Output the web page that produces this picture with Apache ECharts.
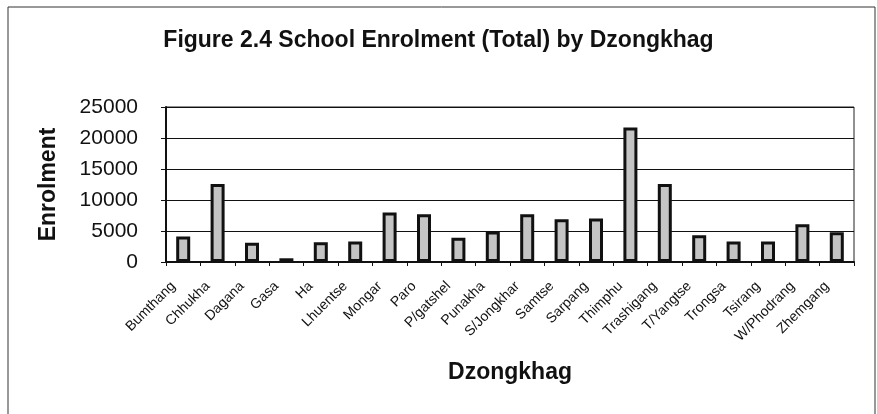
<!DOCTYPE html>
<html>
<head>
<meta charset="utf-8">
<script src="https://cdn.jsdelivr.net/npm/echarts@6/dist/echarts.min.js"></script>
<style>
    html, body { margin: 0; padding: 0; background: #fff; }
    #chart { width: 877px; height: 414px; }
</style>
</head>
<body>
<div id="chart"></div>
<script>
    // Dzongkhag names along the x axis
    var dzongkhags = ['Bumthang', 'Chhukha', 'Dagana', 'Gasa', 'Ha', 'Lhuentse', 'Mongar', 'Paro',
        'P/gatshel', 'Punakha', 'S/Jongkhar', 'Samtse', 'Sarpang', 'Thimphu', 'Trashigang',
        'T/Yangtse', 'Trongsa', 'Tsirang', 'W/Phodrang', 'Zhemgang'];
    // total school enrolment
    var enrolment = [4100, 12600, 3100, 600, 3200, 3300, 8000, 7700,
        3900, 4900, 7700, 6900, 7000, 21700, 12600,
        4300, 3300, 3300, 6100, 4800];
    var yTicks = [0, 5000, 10000, 15000, 20000, 25000];

    var font = 'Arial, "Liberation Sans", sans-serif';

    var option = {
        backgroundColor: '#fff',
        animation: false,
        title: {
            text: 'Figure 2.4 School Enrolment (Total) by Dzongkhag',
            left: 'center',
            top: 24,
            textStyle: {
                color: '#111',
                fontFamily: font,
                fontWeight: 'bold',
                fontSize: 23
            }
        },
        graphic: [
            {
                type: 'rect',
                shape: { x: 8, y: 7, width: 867, height: 430 },
                style: { fill: 'none', stroke: '#333', lineWidth: 1 },
                silent: true
            }
        ],
        grid: {
            left: 166,
            right: 23,
            top: 107,
            bottom: 152,
            show: true,
            borderColor: '#222',
            borderWidth: 1
        },
        xAxis: {
            type: 'category',
            data: dzongkhags,
            name: 'Dzongkhag',
            nameLocation: 'middle',
            nameGap: 99,
            nameTextStyle: {
                color: '#111',
                fontFamily: font,
                fontWeight: 'bold',
                fontSize: 23
            },
            axisLine: { lineStyle: { color: '#111', width: 2 } },
            axisTick: { show: true, length: 4, lineStyle: { color: '#111' } },
            axisLabel: {
                interval: 0,
                rotate: 45,
                margin: 12,
                padding: [0, 14, 0, 0],
                color: '#111',
                fontFamily: font,
                fontSize: 14
            }
        },
        yAxis: {
            type: 'value',
            min: yTicks[0],
            max: yTicks[yTicks.length - 1],
            interval: 5000,
            name: 'Enrolment',
            nameLocation: 'middle',
            nameGap: 106,
            nameTextStyle: {
                color: '#111',
                fontFamily: font,
                fontWeight: 'bold',
                fontSize: 23
            },
            axisLine: { show: true, lineStyle: { color: '#111', width: 2 } },
            axisTick: { show: true, length: 5, lineStyle: { color: '#111' } },
            axisLabel: {
                margin: 28,
                color: '#111',
                fontFamily: font,
                fontSize: 21,
                formatter: function (v) { return String(v); }
            },
            splitLine: { lineStyle: { color: '#111', width: 1 } }
        },
        series: [
            {
                type: 'bar',
                data: enrolment,
                barWidth: 14,
                itemStyle: {
                    color: '#c4c4c4',
                    borderColor: '#111',
                    borderWidth: 3
                }
            }
        ]
    };

    var chart = echarts.init(document.getElementById('chart'));
    chart.setOption(option);
</script>
</body>
</html>
